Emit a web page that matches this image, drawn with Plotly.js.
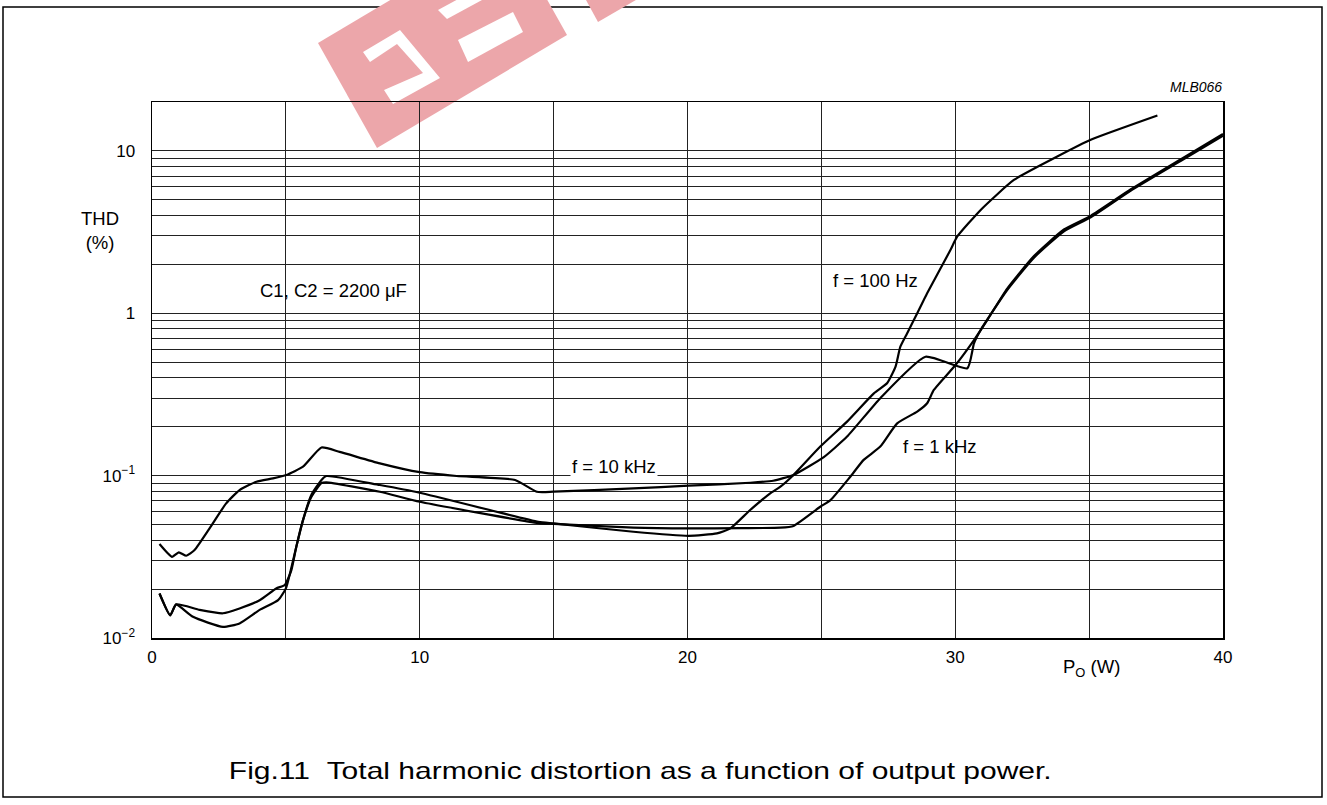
<!DOCTYPE html>
<html><head><meta charset="utf-8">
<script src="https://cdn.plot.ly/plotly-3.0.1.min.js"></script>
<style>html,body{margin:0;padding:0;background:#fff}#chart{width:1327px;height:805px}</style>
</head><body><div id="chart"></div>
<script>
// ---- data (Po in W, THD in %) ----
const power100Hz = [0.28,0.68,0.90,1.78,2.65,3.27,4.02,4.64,4.96,5.2,5.39,5.64,5.95,6.33,6.51,8.51,10.0,14.43,15.0,17.98,20.04,21.1,21.6,22.34,23.09,23.47,23.96,24.96,25.96,26.96,27.46,27.77,27.95,28.2,28.58,28.95,29.82,30.07,30.95,32.19,33.81,35.06,37.55];
const thd100Hz   = [0.0188,0.0138,0.0161,0.0149,0.0142,0.0152,0.0171,0.0202,0.0212,0.026,0.0365,0.0532,0.076,0.094,0.0994,0.0875,0.0785,0.052,0.0508,0.0451,0.0426,0.0441,0.0473,0.0614,0.0778,0.0855,0.101,0.151,0.215,0.321,0.372,0.469,0.622,0.75,1.0,1.33,2.45,2.96,4.33,6.62,9.23,11.7,16.5];

const power1kHz = [0.28,0.68,0.90,1.53,2.65,3.27,4.02,4.71,5.0,5.39,5.64,5.95,6.33,6.51,8.51,10.0,14.43,15.0,17.98,20.04,22.0,23.47,23.96,24.96,25.34,26.08,26.58,27.2,27.83,28.58,28.95,29.2,30.01,30.7,31.2,31.94,32.94,34.06,35.06,36.56,38.43,40.0];
const thd1kHz   = [0.0188,0.0138,0.0161,0.0135,0.0117,0.0123,0.0149,0.0171,0.0202,0.0365,0.0532,0.074,0.090,0.091,0.0796,0.069,0.051,0.0505,0.0478,0.0473,0.0475,0.0478,0.049,0.0643,0.0707,0.0985,0.125,0.151,0.210,0.248,0.279,0.337,0.48,0.684,0.91,1.42,2.25,3.28,3.98,5.8,8.9,12.7];

const power10kHz = [0.28,0.75,1.0,1.28,1.59,2.15,2.77,3.27,3.9,4.52,5.02,5.64,6.33,7.01,8.51,10.0,11.38,13.56,14.37,14.99,17.98,20.04,22.34,23.2,23.96,25.09,25.96,27.2,28.89,30.45,30.7,30.95,31.94,32.94,34.06,35.06,36.56,38.43,40.0];
const thd10kHz   = [0.0379,0.0316,0.0337,0.0321,0.0348,0.0473,0.0675,0.0815,0.0917,0.0962,0.101,0.1135,0.149,0.140,0.119,0.105,0.0995,0.094,0.0796,0.0796,0.0835,0.0867,0.0904,0.093,0.101,0.130,0.174,0.30,0.540,0.458,0.653,0.789,1.39,2.2,3.2,3.9,5.7,8.7,12.4];

const xTickVals = [0,10,20,30,40];
const xTickText = ['0','10','20','30','40'];
const xMinorVals = [5,15,25,35];
const yDecades = [0.01,0.1,1,10];
const yDecadeLabels = ['10<sup>\u22122</sup>','10<sup>\u22121</sup>','1','10'];
const yMultipliers = [2,3,4,5,6,7,8,9];

// ---- minor log grid positions ----
const yMinorVals = [];
yDecades.forEach(d => yMultipliers.forEach(m => yMinorVals.push(+(d*m).toPrecision(3))));
yMinorVals.push(20);

const FONT = 'Liberation Sans, Arial, Helvetica, sans-serif';
const line = {color:'#000', width:2.2, shape:'spline', smoothing:0.5};
const traces = [
  {x:power100Hz, y:thd100Hz, mode:'lines', line:line, name:'f = 100 Hz'},
  {x:power1kHz,  y:thd1kHz,  mode:'lines', line:line, name:'f = 1 kHz'},
  {x:power10kHz, y:thd10kHz, mode:'lines', line:line, name:'f = 10 kHz'}
];

// pixel -> paper helpers for decoration only
const L=152, T=102, W=1071, H=536;
const px = v => (v-L)/W, py = v => (T+H-v)/H;
const poly = pts => 'M'+pts.map(p=>px(p[0])+','+py(p[1])).join('L')+'Z';
const WM = '#eca6aa';

const shapes = [
  {type:'rect', xref:'paper', yref:'paper', x0:px(3), x1:px(1322), y0:py(797), y1:py(7), line:{color:'#000',width:1.5}, layer:'below'},
  {type:'path', xref:'paper', yref:'paper', path:poly([[318,43],[377,148],[567,35],[508,-70]]), fillcolor:WM, line:{width:0}, layer:'below'},
  {type:'path', xref:'paper', yref:'paper', path:poly([[586,0],[598,22],[660,-14],[648,-36]]), fillcolor:WM, line:{width:0}, layer:'below'},
  {type:'path', xref:'paper', yref:'paper', path:poly([[458,40],[468,62],[523,32],[513,12]]), fillcolor:'#fff', line:{width:0}, layer:'below'},
  {type:'path', xref:'paper', yref:'paper', path:poly([[438,10],[447,19],[482,0],[473,-9]]), fillcolor:'#fff', line:{width:0}, layer:'below'},
  {type:'path', xref:'paper', yref:'paper', path:poly([[363,52],[400,30],[440,78],[393,104],[384,90],[423,73],[397,44],[370,62]]), fillcolor:'#fff', line:{width:0}, layer:'below'}
];

const af = {family:FONT, size:18.5, color:'#000'};
const C = {showarrow:false, xanchor:'center', yanchor:'middle'};
const TITLE = 'Fig.11\u00a0\u00a0Total harmonic distortion as a function of output power.';
const annotations = [
  Object.assign({xref:'x', yref:'y', x:17.25, y:Math.log10(0.1135), text:'f = 10 kHz', font:af, bgcolor:'#fff', borderpad:1}, C),
  Object.assign({xref:'x', yref:'y', x:27.03, y:Math.log10(1.6), text:'f = 100 Hz', font:af}, C),
  Object.assign({xref:'x', yref:'y', x:29.44, y:Math.log10(0.151), text:'f = 1 kHz', font:af}, C),
  Object.assign({xref:'x', yref:'y', x:6.79, y:Math.log10(1.39), text:'C1, C2 = 2200 \u03bcF', font:af}, C),
  Object.assign({xref:'paper', yref:'paper', x:px(1196), y:py(87), text:'<i>MLB066</i>', font:{family:FONT,size:14,color:'#000'}}, C),
  Object.assign({xref:'paper', yref:'paper', x:px(100), y:py(231), text:'THD<br>(%)', font:af}, C),
  Object.assign({xref:'paper', yref:'paper', x:px(1091), y:py(668), text:'P<sub>O</sub> (W)', font:af}, C),
  Object.assign({xref:'paper', yref:'paper', x:px(640), y:py(770), text:TITLE, font:{family:FONT,size:24,color:'#000'}}, C)
];

const gridStyle = {showgrid:true, gridcolor:'#222', gridwidth:1};
const layout = {
  width:1327, height:805,
  margin:{l:L, r:1327-L-W, t:T, b:805-T-H},
  paper_bgcolor:'#fff', plot_bgcolor:'rgba(0,0,0,0)',
  showlegend:false, hovermode:false,
  font:{family:FONT, size:17, color:'#000'},
  xaxis:Object.assign({range:[0,40], tickmode:'array', tickvals:xTickVals, ticktext:xTickText, ticks:'',
         minor:Object.assign({tickmode:'array', tickvals:xMinorVals, ticks:''}, gridStyle),
         zeroline:false, showline:true, linecolor:'#000', linewidth:1.5, mirror:true, ticklabelstandoff:3, tickfont:{size:17}}, gridStyle),
  yaxis:Object.assign({type:'log', range:[-2, Math.log10(20)], tickmode:'array', tickvals:yDecades, ticktext:yDecadeLabels, ticks:'',
         minor:Object.assign({tickmode:'array', tickvals:yMinorVals, ticks:''}, gridStyle),
         zeroline:false, showline:true, linecolor:'#000', linewidth:1.5, mirror:true, ticklabelstandoff:12, tickfont:{size:17}}, gridStyle),
  shapes:shapes, annotations:annotations
};
Plotly.newPlot('chart', traces, layout, {displayModeBar:false, staticPlot:true}).then(gd => {
  // the reference caption is set in a wide face: stretch it horizontally to its span (228..1051 px)
  const texts = gd.querySelectorAll('.annotation-text');
  texts.forEach(t => {
    if (t.textContent.indexOf('Fig.11') === 0) {
      const b = t.getBBox();
      const s = 823 / b.width;
      const cx = b.x + b.width/2;
      t.setAttribute('transform', 'translate(' + (cx*(1-s)) + ',0) scale(' + s + ',1)');
    }
  });
});
</script></body></html>
